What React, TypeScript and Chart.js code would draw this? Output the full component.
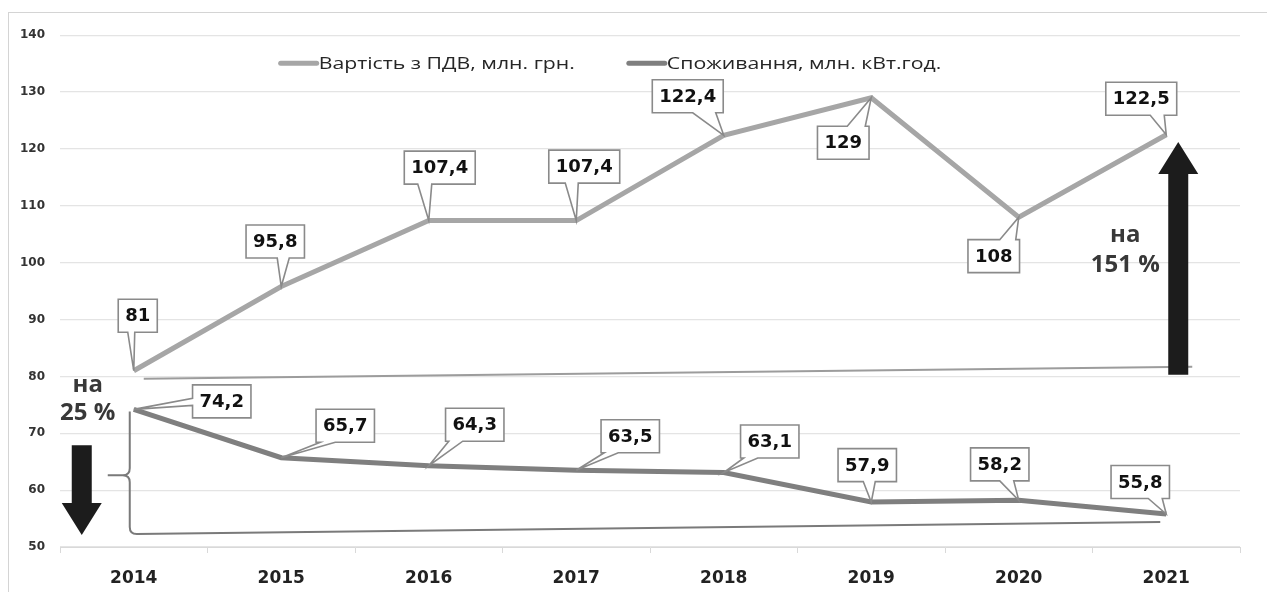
import React, { useEffect, useRef } from "react";
import { Chart, registerables } from "chart.js";

Chart.register(...registerables);

const years = ["2014", "2015", "2016", "2017", "2018", "2019", "2020", "2021"];
const costValues = [81, 95.8, 107.4, 107.4, 122.4, 129, 108, 122.5];
const consumptionValues = [74.2, 65.7, 64.3, 63.5, 63.1, 57.9, 58.2, 55.8];
const costLabel = "Вартість з ПДВ, млн. грн.";
const consumptionLabel = "Споживання, млн. кВт.год.";
const yMin = 50;
const yMax = 140;
const yStep = 10;
const growthText = ["на", "151 %"];
const dropText = ["на", "25 %"];

const COST_COLOR = "#a6a6a6";
const CONS_COLOR = "#7f7f7f";

type Callout = { dx: number; dy: number; side: "t" | "b" | "l"; b1: number; b2: number };

const costCallouts: Callout[] = [
  { dx: 4, dy: -55, side: "b", b1: -10, b2: -3 },
  { dx: -6, dy: -45, side: "b", b1: 2, b2: 14 },
  { dx: 11, dy: -53, side: "b", b1: -22, b2: -8 },
  { dx: 8, dy: -54, side: "b", b1: -19, b2: -6 },
  { dx: -36, dy: -39, side: "b", b1: 5, b2: 28 },
  { dx: -28, dy: 45, side: "t", b1: 4, b2: 22 },
  { dx: -25, dy: 39, side: "t", b1: 6, b2: 22 },
  { dx: -25, dy: -36, side: "b", b1: 9, b2: 23 },
];
const consCallouts: Callout[] = [
  { dx: 88, dy: -8, side: "l", b1: -3, b2: 4 },
  { dx: 64, dy: -32, side: "b", b1: -25, b2: -10 },
  { dx: 46, dy: -41, side: "b", b1: -26, b2: -12 },
  { dx: 54, dy: -34, side: "b", b1: -26, b2: -12 },
  { dx: 46, dy: -31, side: "b", b1: -26, b2: -12 },
  { dx: -4, dy: -37, side: "b", b1: -4, b2: 8 },
  { dx: -19, dy: -36, side: "b", b1: 0, b2: 14 },
  { dx: -26, dy: -32, side: "b", b1: 8, b2: 22 },
];

const fmt = (v: number) => String(v).replace(".", ",");

function drawCallout(ctx: CanvasRenderingContext2D, px: number, py: number, c: Callout, text: string) {
  ctx.font = "bold 18px 'DejaVu Sans'";
  const w = ctx.measureText(text).width + 14;
  const h = 33;
  const cx = px + c.dx;
  const cy = py + c.dy;
  const l = cx - w / 2, r = cx + w / 2, t = cy - h / 2, bt = cy + h / 2;
  ctx.beginPath();
  ctx.moveTo(l, t);
  if (c.side === "t") {
    ctx.lineTo(cx + c.b1, t);
    ctx.lineTo(px, py);
    ctx.lineTo(cx + c.b2, t);
  }
  ctx.lineTo(r, t);
  ctx.lineTo(r, bt);
  if (c.side === "b") {
    ctx.lineTo(cx + c.b2, bt);
    ctx.lineTo(px, py);
    ctx.lineTo(cx + c.b1, bt);
  }
  ctx.lineTo(l, bt);
  if (c.side === "l") {
    ctx.lineTo(l, cy + c.b2);
    ctx.lineTo(px, py);
    ctx.lineTo(l, cy + c.b1);
  }
  ctx.closePath();
  ctx.fillStyle = "#ffffff";
  ctx.fill();
  ctx.strokeStyle = "#8a8a8a";
  ctx.lineWidth = 1.6;
  ctx.lineJoin = "miter";
  ctx.stroke();
  ctx.fillStyle = "#111111";
  ctx.textAlign = "center";
  ctx.textBaseline = "middle";
  ctx.fillText(text, cx, cy + 1);
}

function drawArrow(ctx: CanvasRenderingContext2D, x: number, yTail: number, yTip: number) {
  const dir = yTip < yTail ? -1 : 1;
  const shaftW = 20, headW = 40, headH = 32;
  const yBase = yTip - dir * headH;
  ctx.beginPath();
  ctx.moveTo(x - shaftW / 2, yTail);
  ctx.lineTo(x - shaftW / 2, yBase);
  ctx.lineTo(x - headW / 2, yBase);
  ctx.lineTo(x, yTip);
  ctx.lineTo(x + headW / 2, yBase);
  ctx.lineTo(x + shaftW / 2, yBase);
  ctx.lineTo(x + shaftW / 2, yTail);
  ctx.closePath();
  ctx.fillStyle = "#1c1c1c";
  ctx.fill();
}

const LEGEND_STRETCH = 1.25;

const annotPlugin = {
  id: "annot",
  afterDatasetsDraw(chart: any) {
    const ctx: CanvasRenderingContext2D = chart.ctx;
    const xs = chart.scales.x;
    const ys = chart.scales.y;
    const n = years.length;
    const x0 = xs.getPixelForValue(0);
    const xN = xs.getPixelForValue(n - 1);
    ctx.save();

    // thin growth baseline
    ctx.beginPath();
    ctx.moveTo(x0 + 10, ys.getPixelForValue(79.6));
    ctx.lineTo(xN + 26, ys.getPixelForValue(81.7));
    ctx.strokeStyle = "#9c9c9c";
    ctx.lineWidth = 2;
    ctx.stroke();

    // brace
    const xv = x0 - 4;
    const yTop = ys.getPixelForValue(consumptionValues[0]) + 2;
    const yMid = ys.getPixelForValue(62.6);
    const yBot = ys.getPixelForValue(52.3);
    const r = 7;
    ctx.beginPath();
    ctx.moveTo(xv, yTop);
    ctx.lineTo(xv, yMid - r);
    ctx.quadraticCurveTo(xv, yMid, xv - r, yMid);
    ctx.lineTo(x0 - 26, yMid);
    ctx.moveTo(xv - r, yMid);
    ctx.quadraticCurveTo(xv, yMid, xv, yMid + r);
    ctx.lineTo(xv, yBot - r);
    ctx.quadraticCurveTo(xv, yBot, xv + r, yBot);
    ctx.lineTo(xN - 6, ys.getPixelForValue(54.4));
    ctx.strokeStyle = "#7a7a7a";
    ctx.lineWidth = 2;
    ctx.lineJoin = "round";
    ctx.stroke();

    // arrows
    drawArrow(ctx, xN + 12, ys.getPixelForValue(80.3), ys.getPixelForValue(121.2));
    drawArrow(ctx, x0 - 52, ys.getPixelForValue(67.9), ys.getPixelForValue(52.1));

    // texts
    ctx.fillStyle = "#383838";
    ctx.font = "bold 24px 'Open Sans'";
    ctx.textAlign = "center";
    ctx.textBaseline = "middle";
    ctx.fillText(growthText[0], xN - 41, ys.getPixelForValue(104.9));
    ctx.fillText(growthText[1], xN - 41, ys.getPixelForValue(99.6));
    ctx.fillText(dropText[0], x0 - 46, ys.getPixelForValue(78.4));
    ctx.fillText(dropText[1], x0 - 46, ys.getPixelForValue(73.5));

    // callouts
    const m0 = chart.getDatasetMeta(0);
    const m1 = chart.getDatasetMeta(1);
    costValues.forEach((v, i) => {
      const p = m0.data[i];
      drawCallout(ctx, p.x, p.y, costCallouts[i], fmt(v));
    });
    consumptionValues.forEach((v, i) => {
      const p = m1.data[i];
      drawCallout(ctx, p.x, p.y, consCallouts[i], fmt(v));
    });

    // legend
    ctx.font = "17px 'Open Sans'";
    ctx.textAlign = "left";
    ctx.textBaseline = "middle";
    const lineW = 36;
    const t1 = ctx.measureText(costLabel).width * LEGEND_STRETCH;
    const t2 = ctx.measureText(consumptionLabel).width * LEGEND_STRETCH;
    const w1 = lineW + 2 + t1;
    const w2 = lineW + 2 + t2;
    const gap = 54;
    const total = w1 + gap + w2;
    const cxL = (chart.chartArea.left + chart.chartArea.right) / 2 - 39;
    let lx = cxL - total / 2;
    const ly = chart.chartArea.top + 28;
    const items = [
      { c: COST_COLOR, t: costLabel, w: w1 },
      { c: CONS_COLOR, t: consumptionLabel, w: w2 },
    ];
    items.forEach((it) => {
      ctx.beginPath();
      ctx.moveTo(lx, ly);
      ctx.lineTo(lx + lineW, ly);
      ctx.strokeStyle = it.c;
      ctx.lineWidth = 5;
      ctx.lineCap = "round";
      ctx.stroke();
      ctx.save();
      ctx.translate(lx + lineW + 2, ly + 1);
      ctx.scale(LEGEND_STRETCH, 1);
      ctx.fillStyle = "#262626";
      ctx.fillText(it.t, 0, 0);
      ctx.restore();
      lx += it.w + gap;
    });
    ctx.restore();
  },
};

export default function App() {
  const ref = useRef<HTMLCanvasElement | null>(null);
  useEffect(() => {
    if (!ref.current) return;
    const chart = new Chart(ref.current, {
      type: "line",
      data: {
        labels: years,
        datasets: [
          {
            label: costLabel,
            data: costValues,
            borderColor: COST_COLOR,
            backgroundColor: COST_COLOR,
            borderWidth: 5,
            pointRadius: 0,
            tension: 0,
          },
          {
            label: consumptionLabel,
            data: consumptionValues,
            borderColor: CONS_COLOR,
            backgroundColor: CONS_COLOR,
            borderWidth: 5,
            pointRadius: 0,
            tension: 0,
          },
        ],
      },
      options: {
        animation: false,
        responsive: true,
        maintainAspectRatio: false,
        layout: { padding: { top: 21, right: 27, left: 0, bottom: 0 } },
        plugins: { legend: { display: false }, tooltip: { enabled: false } },
        scales: {
          x: {
            offset: true,
            grid: {
              offset: true,
              drawOnChartArea: false,
              drawTicks: true,
              tickLength: 6,
              color: "#d9d9d9",
            },
            border: { display: true, color: "#d9d9d9" },
            ticks: {
              color: "#222222",
              font: { family: "'DejaVu Sans'", size: 17, weight: "bold" },
              padding: 15,
              maxRotation: 0,
            },
            afterFit: (s: any) => {
              s.height = 45;
            },
          },
          y: {
            min: yMin,
            max: yMax,
            ticks: {
              stepSize: yStep,
              color: "#333333",
              font: { family: "'DejaVu Sans'", size: 12, weight: "bold" },
              padding: 15,
            },
            grid: { color: "#e4e4e4", drawTicks: false, lineWidth: 1.2 },
            border: { display: false },
            afterFit: (s: any) => {
              s.width = 51;
            },
          },
        },
      },
      plugins: [annotPlugin],
    });
    return () => chart.destroy();
  }, []);
  return (
    <div
      style={{
        position: "absolute",
        left: 8,
        top: 12,
        width: 1259,
        height: 580,
        borderTop: "1px solid #d4d4d4",
        borderLeft: "1px solid #d4d4d4",
        boxSizing: "border-box",
        background: "#ffffff",
      }}
    >
      <div style={{ position: "relative", width: "100%", height: "100%" }}>
        <canvas ref={ref} />
      </div>
    </div>
  );
}
